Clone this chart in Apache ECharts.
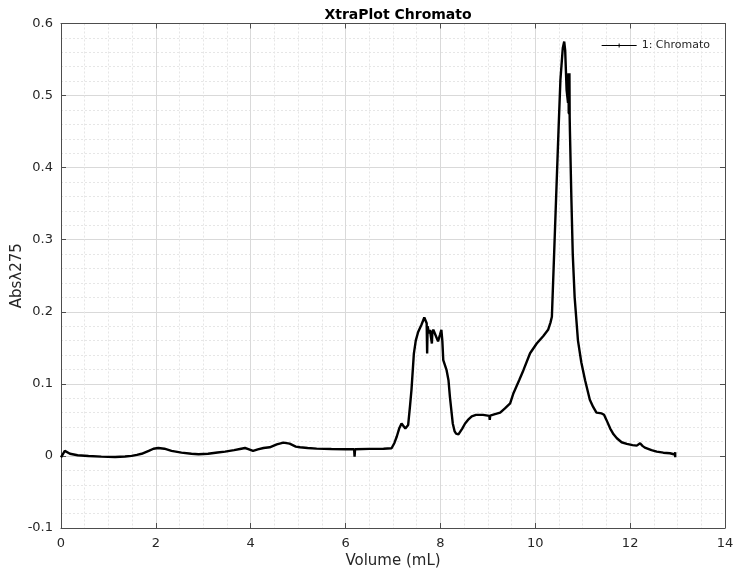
<!DOCTYPE html>
<html>
<head>
<meta charset="utf-8">
<script src="https://cdn.jsdelivr.net/npm/echarts@6/dist/echarts.min.js"></script>
<style>
html,body{margin:0;padding:0;background:#fff;}
#chart{width:737px;height:573px;}
</style>
</head>
<body>
<div id="chart"></div>
<script>
const chartTitle = "XtraPlot Chromato";
const xAxisName = "Volume (mL)";
const yAxisName = "Abs\u03bb275";
const seriesName = "1: Chromato";

const volume = [
  0.00, 0.04, 0.08, 0.12, 0.19, 0.35, 0.58, 0.85, 1.14, 1.35,
  1.49, 1.60, 1.70, 1.85, 1.95, 2.05, 2.18, 2.33, 2.54, 2.75,
  2.90, 3.10, 3.30, 3.46, 3.65, 3.80, 3.88, 3.95, 4.05, 4.15,
  4.27, 4.40, 4.55, 4.69, 4.82, 4.95, 5.04, 5.20, 5.39, 5.70,
  6.00, 6.18, 6.19, 6.20, 6.50, 6.80, 6.97, 7.03, 7.08, 7.13,
  7.18, 7.22, 7.26, 7.29, 7.32, 7.36, 7.39, 7.44, 7.48, 7.53,
  7.60, 7.66, 7.69, 7.71, 7.72, 7.73, 7.76, 7.78, 7.80, 7.82,
  7.83, 7.85, 7.90, 7.95, 7.99, 8.02, 8.04, 8.06, 8.13, 8.17,
  8.20, 8.26, 8.30, 8.33, 8.38, 8.41, 8.46, 8.52, 8.58, 8.66,
  8.75, 8.90, 9.03, 9.04, 9.05, 9.15, 9.26, 9.36, 9.47, 9.54,
  9.66, 9.75, 9.89, 10.03, 10.17, 10.27, 10.32, 10.35, 10.39, 10.44,
  10.49, 10.53, 10.58, 10.61, 10.63, 10.66, 10.69, 10.70, 10.705, 10.71,
  10.715, 10.72, 10.725, 10.73, 10.76, 10.79, 10.83, 10.90, 10.97, 11.05,
  11.15, 11.22, 11.29, 11.40, 11.45, 11.50, 11.58, 11.65, 11.72, 11.82,
  11.93, 12.05, 12.14, 12.21, 12.26, 12.31, 12.45, 12.56, 12.70, 12.84,
  12.94, 12.95, 12.95
];
const absorbance = [
  -0.002, 0.000, 0.007, 0.005, 0.003, 0.001, 0.000, -0.001, -0.0014, -0.0008,
  0.000, 0.0015, 0.003, 0.007, 0.010, 0.011, 0.010, 0.007, 0.0046, 0.003,
  0.0024, 0.003, 0.0048, 0.006, 0.008, 0.010, 0.011, 0.0095, 0.007, 0.009,
  0.011, 0.012, 0.016, 0.0185, 0.017, 0.013, 0.012, 0.011, 0.0101, 0.0096,
  0.0093, 0.0093, -0.001, 0.0093, 0.0098, 0.010, 0.0106, 0.018, 0.027, 0.038,
  0.045, 0.047, 0.038, 0.036, 0.043, 0.070, 0.092, 0.142, 0.160, 0.172,
  0.182, 0.192, 0.190, 0.184, 0.142, 0.180, 0.170, 0.175, 0.165, 0.156,
  0.172, 0.175, 0.167, 0.159, 0.168, 0.175, 0.160, 0.133, 0.119, 0.105,
  0.082, 0.045, 0.034, 0.031, 0.030, 0.031, 0.038, 0.045, 0.050, 0.055,
  0.057, 0.057, 0.0555, 0.050, 0.056, 0.058, 0.060, 0.066, 0.073, 0.087,
  0.105, 0.119, 0.1425, 0.156, 0.1665, 0.175, 0.185, 0.193, 0.267, 0.360,
  0.452, 0.522, 0.566, 0.575, 0.563, 0.508, 0.490, 0.531, 0.475, 0.528,
  0.474, 0.531, 0.470, 0.452, 0.360, 0.280, 0.220, 0.160, 0.130, 0.105,
  0.078, 0.068, 0.060, 0.059, 0.057, 0.050, 0.038, 0.030, 0.0245, 0.019,
  0.0167, 0.015, 0.0143, 0.0176, 0.014, 0.0115, 0.008, 0.006, 0.0045, 0.0037,
  0.002, 0.005, -0.002
];

const xMin = 0, xMax = 14, xStep = 2;
const yMin = -0.1, yMax = 0.6, yStep = 0.1;

const points = volume.map((v, i) => [v, absorbance[i]]);

const FONT = 'DejaVu Sans';
const axisColor = '#4d4d4d';
const textColor = '#262626';

const chart = echarts.init(document.getElementById('chart'), null, {renderer: 'canvas'});
chart.setOption({
  backgroundColor: '#ffffff',
  animation: false,
  title: {
    text: chartTitle,
    left: 393, top: 3, textAlign: 'center',
    textStyle: {fontFamily: FONT, fontSize: 14, fontWeight: 'bold', color: '#000'}
  },
  legend: {
    right: 22, top: 35,
    itemWidth: 35, itemHeight: 8, itemGap: 4,
    textStyle: {fontFamily: FONT, fontSize: 11, color: textColor},
    data: [{name: seriesName, icon: 'path://M0,3.6L17,3.6L17,2L18,2L18,3.6L35,3.6L35,4.4L18,4.4L18,6L17,6L17,4.4L0,4.4Z'}]
  },
  grid: {left: 61, right: 12, top: 23.5, bottom: 45, containLabel: false, outerBoundsMode: 'none'},
  xAxis: [{
    type: 'value', min: xMin, max: xMax, interval: xStep,
    name: xAxisName, nameLocation: 'middle', nameGap: 26, nameMoveOverlap: false,
    nameTextStyle: {fontFamily: FONT, fontSize: 15, color: textColor},
    axisLine: {show: true, onZero: false, lineStyle: {color: axisColor, width: 1}},
    axisTick: {show: true, inside: true, length: 5, lineStyle: {color: axisColor}},
    axisLabel: {fontFamily: FONT, fontSize: 13, color: textColor, margin: 9},
    splitLine: {show: true, lineStyle: {color: '#d9d9d9', width: 1}},
    minorTick: {show: false, splitNumber: 4},
    minorSplitLine: {show: true, lineStyle: {color: '#e6e6e6', width: 1, type: [2, 2]}}
  }, {
    type: 'value', position: 'top', min: xMin, max: xMax, interval: xStep,
    axisLine: {show: true, onZero: false, lineStyle: {color: axisColor, width: 1}},
    axisTick: {show: true, inside: true, length: 5, lineStyle: {color: axisColor}},
    axisLabel: {show: false}, splitLine: {show: false}
  }],
  yAxis: [{
    type: 'value', min: yMin, max: yMax, interval: yStep,
    name: yAxisName, nameLocation: 'middle', nameGap: 36, nameMoveOverlap: false,
    nameTextStyle: {fontFamily: FONT, fontSize: 15, color: textColor},
    axisLine: {show: true, onZero: false, lineStyle: {color: axisColor, width: 1}},
    axisTick: {show: true, inside: true, length: 5, lineStyle: {color: axisColor}},
    axisLabel: {fontFamily: FONT, fontSize: 13, color: textColor, margin: 8,
      formatter: v => String(Math.round(v * 10) / 10)},
    splitLine: {show: true, lineStyle: {color: '#d9d9d9', width: 1}},
    minorTick: {show: false, splitNumber: 5},
    minorSplitLine: {show: true, lineStyle: {color: '#e6e6e6', width: 1, type: [2, 2]}}
  }, {
    type: 'value', position: 'right', min: yMin, max: yMax, interval: yStep,
    axisLine: {show: true, onZero: false, lineStyle: {color: axisColor, width: 1}},
    axisTick: {show: true, inside: true, length: 5, lineStyle: {color: axisColor}},
    axisLabel: {show: false}, splitLine: {show: false}
  }],
  series: [{
    name: seriesName,
    type: 'line',
    xAxisIndex: 0, yAxisIndex: 0,
    data: points,
    showSymbol: false,
    symbol: 'none',
    smooth: false,
    lineStyle: {color: '#000', width: 2.4},
    itemStyle: {color: '#000'}
  }]
});
</script>
</body>
</html>
